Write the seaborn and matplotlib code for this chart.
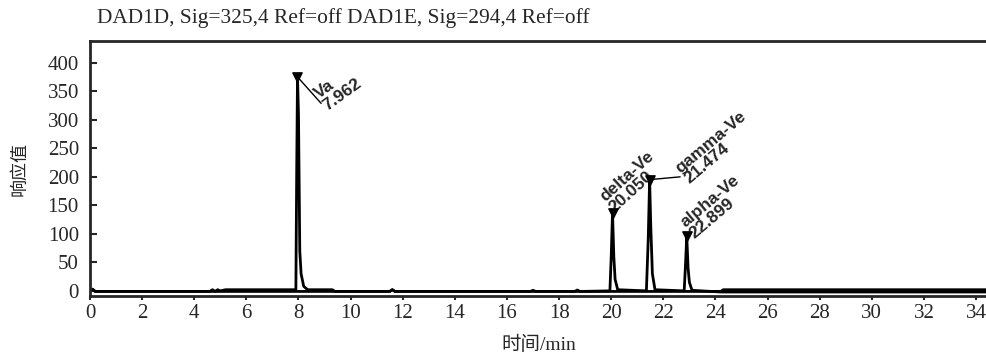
import numpy as np
import pandas as pd
import matplotlib
matplotlib.use("Agg")
import matplotlib.pyplot as plt
import seaborn as sns

# ---- data ----
# DAD1D, 325 nm trace (vitamin A)
t_325 = [0, 0.1, 0.2, 4.6, 4.7, 4.8, 4.9, 5.0, 5.2, 7.90, 7.93, 7.962, 8.00, 8.05, 8.10,
         8.20, 8.35, 9.3, 9.4, 11.5, 11.6, 11.7, 16.9, 17.0, 17.1, 24.2, 24.3, 34.5]
v_325 = [2, 3, -1, -1, 2, -1, 2, 0, 2, 2, 200, 375, 310, 70, 30,
         8, 2, 2, -1, -1, 2, -1, -1, 1, -1, -1, 2, 2]
# DAD1E, 294 nm trace (vitamin E)
t_294 = [0, 0.1, 0.2, 5.0, 9.4, 11.5, 11.6, 11.7, 18.6, 18.7, 18.8, 19.95, 20.0, 20.05,
         20.1, 20.15, 20.25, 21.35, 21.42, 21.474, 21.52, 21.58, 21.68, 22.80, 22.85,
         22.899, 22.95, 23.0, 23.1, 24.2, 34.5]
v_294 = [1, 2, -1, -1, -1, -1, 2, -1, -1, 1.5, -1, 0, 60, 137,
         60, 20, 2, 0, 90, 195, 110, 30, 2, 0, 45,
         96, 40, 15, 1, -2, -2]

peak_names = ["Va", "delta-Ve", "gamma-Ve", "alpha-Ve"]
peak_times = [7.962, 20.050, 21.474, 22.899]
peak_heights = [375, 137, 195, 96]

title = "DAD1D, Sig=325,4 Ref=off DAD1E, Sig=294,4 Ref=off"
xlabel = "时间/min"
ylabel = "响应值"
xticks = list(range(0, 35, 2))
yticks = list(range(0, 401, 50))

# ---- plotting ----
sns.set_style("ticks")
plt.rcParams["font.family"] = ["Liberation Serif", "Noto Sans CJK SC", "DejaVu Sans"]

fig = plt.figure(figsize=(9.87, 3.54), dpi=100)
ax = fig.add_axes([90 / 987, 1 - 296 / 354, 1.0 - 90 / 987, (296 - 41) / 354])

df325 = pd.DataFrame({"t": t_325, "v": v_325})
df294 = pd.DataFrame({"t": t_294, "v": v_294})
sns.lineplot(data=df325, x="t", y="v", ax=ax, color="black", lw=2.0, sort=False)
sns.lineplot(data=df294, x="t", y="v", ax=ax, color="black", lw=2.0, sort=False)

ax.scatter(peak_times, peak_heights, marker="v", s=45, color="black", zorder=5)

# label offsets (points), angles and leader-line ends – styling only
offsets = [(23, -26), (3, -1.5), (30, -5), (7, -3.5)]
angles = [36, 42, 40, 40]
leaders = [(17, -19), None, (22, 2), None]
for name, t, h, off, ang, ld in zip(peak_names, peak_times, peak_heights, offsets, angles, leaders):
    if ld is not None:
        ax.annotate("", xy=(t, h), xytext=ld, textcoords="offset points",
                    arrowprops=dict(arrowstyle="-", lw=1.0, color="black",
                                    shrinkA=0, shrinkB=0))
    label = f"{name}\n{t:.3f}"
    ax.annotate(label, xy=(t, h), xytext=off, textcoords="offset points",
                rotation=ang, rotation_mode="anchor", ha="left", va="bottom",
                fontsize=12.5, fontweight="bold", family="Liberation Sans",
                linespacing=0.95)

ax.set_xlim(0, 34.42)
ax.set_ylim(-9, 438)
ax.set_xticks(xticks)
ax.set_yticks(yticks)
ax.tick_params(axis="y", direction="in", length=5, width=1.5, labelsize=15, pad=8)
ax.tick_params(axis="x", direction="out", length=3, width=1.5, labelsize=15, pad=3)
for s in ["left", "top", "bottom"]:
    ax.spines[s].set_linewidth(2)
ax.spines["right"].set_visible(False)

ax.set_xlabel(xlabel, fontsize=14, labelpad=9)
ax.set_ylabel(ylabel, fontsize=13, labelpad=14)
fig.text(97 / 987, 1 - 18 / 354, title, fontsize=15.4, va="center", ha="left")

fig.savefig("out.png", dpi=100)
